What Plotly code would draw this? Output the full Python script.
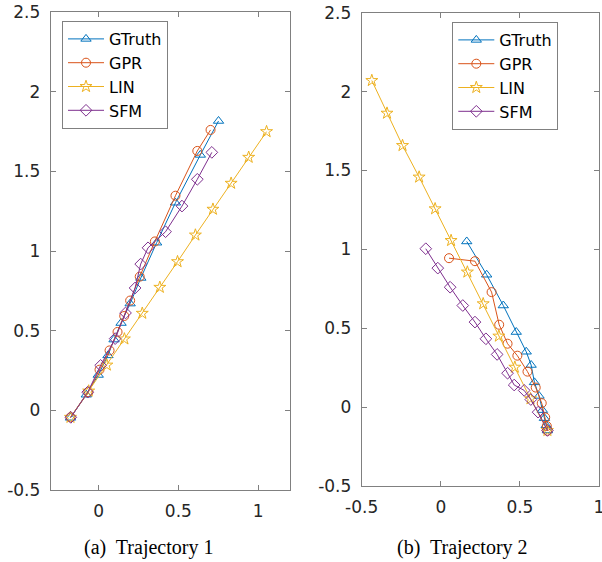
import plotly.graph_objects as go

# ---------------- data ----------------
series_names = ["GTruth", "GPR", "LIN", "SFM"]

# Trajectory 1
t1_gtruth_x = [-0.176, -0.077, -0.002, 0.059, 0.097, 0.141, 0.198, 0.265, 0.364, 0.482, 0.638, 0.752]
t1_gtruth_y = [-0.047, 0.098, 0.222, 0.345, 0.444, 0.548, 0.670, 0.831, 1.052, 1.303, 1.603, 1.816]
t1_gpr_x = [-0.176, -0.064, 0.006, 0.069, 0.119, 0.161, 0.198, 0.258, 0.353, 0.482, 0.619, 0.702]
t1_gpr_y = [-0.044, 0.114, 0.255, 0.376, 0.492, 0.592, 0.689, 0.839, 1.060, 1.347, 1.628, 1.760]
t1_lin_x = [-0.176, -0.062, 0.052, 0.162, 0.274, 0.384, 0.495, 0.607, 0.717, 0.831, 0.941, 1.053]
t1_lin_y = [-0.044, 0.121, 0.284, 0.448, 0.609, 0.772, 0.933, 1.100, 1.262, 1.425, 1.588, 1.749]
t1_sfm_x = [-0.174, -0.068, 0.013, 0.104, 0.169, 0.229, 0.264, 0.310, 0.420, 0.523, 0.619, 0.710]
t1_sfm_y = [-0.044, 0.114, 0.282, 0.450, 0.611, 0.768, 0.918, 1.020, 1.121, 1.282, 1.450, 1.619]

# Trajectory 2
t2_gtruth_x = [0.164, 0.290, 0.395, 0.477, 0.540, 0.571, 0.592, 0.621, 0.642, 0.655, 0.666, 0.674]
t2_gtruth_y = [1.050, 0.839, 0.644, 0.476, 0.351, 0.267, 0.157, 0.071, -0.019, -0.070, -0.116, -0.148]
t2_gpr_x = [0.052, 0.216, 0.321, 0.369, 0.422, 0.484, 0.548, 0.600, 0.638, 0.660, 0.670, 0.674]
t2_gpr_y = [0.944, 0.925, 0.729, 0.522, 0.402, 0.326, 0.225, 0.124, 0.025, -0.065, -0.120, -0.150]
t2_lin_x = [-0.436, -0.340, -0.242, -0.137, -0.036, 0.065, 0.168, 0.268, 0.367, 0.468, 0.567, 0.674]
t2_lin_y = [2.070, 1.863, 1.658, 1.458, 1.257, 1.056, 0.856, 0.655, 0.450, 0.253, 0.053, -0.148]
t2_sfm_x = [-0.095, -0.019, 0.059, 0.139, 0.216, 0.285, 0.356, 0.422, 0.464, 0.527, 0.569, 0.615, 0.674]
t2_sfm_y = [1.004, 0.881, 0.760, 0.644, 0.539, 0.433, 0.334, 0.215, 0.140, 0.106, 0.048, -0.032, -0.148]

x1_ticks = [0, 0.5, 1]
x1_labels = ["0", "0.5", "1"]
x2_ticks = [-0.5, 0, 0.5, 1]
x2_labels = ["-0.5", "0", "0.5", "1"]
y_ticks = [-0.5, 0, 0.5, 1, 1.5, 2, 2.5]
y_labels = ["-0.5", "0", "0.5", "1", "1.5", "2", "2.5"]
captions = ["(a)  Trajectory 1", "(b)  Trajectory 2"]

# ---------------- style ----------------
colors = ["#0072BD", "#D95319", "#EDB120", "#7E2F8E"]
symbols = ["triangle-up-open", "circle-open", "star-open", "diamond-open"]
msizes = [9, 9, 9, 9]
AX = "#808080"
TXT = "#262626"
FONT = "DejaVu Sans"

fig = go.Figure()

traj1 = [(t1_gtruth_x, t1_gtruth_y), (t1_gpr_x, t1_gpr_y), (t1_lin_x, t1_lin_y), (t1_sfm_x, t1_sfm_y)]
traj2 = [(t2_gtruth_x, t2_gtruth_y), (t2_gpr_x, t2_gpr_y), (t2_lin_x, t2_lin_y), (t2_sfm_x, t2_sfm_y)]

for k, (xs, ys) in enumerate(traj1):
    fig.add_trace(go.Scatter(
        x=xs, y=ys, mode="lines+markers", name=series_names[k],
        line=dict(color=colors[k], width=1),
        marker=dict(symbol=symbols[k], size=msizes[k], color=colors[k], line=dict(width=1, color=colors[k])),
        xaxis="x", yaxis="y", legend="legend"))

for k, (xs, ys) in enumerate(traj2):
    fig.add_trace(go.Scatter(
        x=xs, y=ys, mode="lines+markers", name=series_names[k],
        line=dict(color=colors[k], width=1),
        marker=dict(symbol=symbols[k], size=msizes[k], color=colors[k], line=dict(width=1, color=colors[k])),
        xaxis="x2", yaxis="y2", legend="legend2"))

axis_common = dict(
    showgrid=False, zeroline=False, showline=True, linecolor=AX, linewidth=1,
    mirror="ticks", ticks="inside", ticklen=5, tickcolor=AX, tickwidth=1,
    tickfont=dict(family=FONT, size=17, color=TXT), automargin=False,
    ticklabeloverflow="allow",
)

legend_common = dict(
    xref="paper", yref="paper", xanchor="left", yanchor="top",
    bgcolor="white", bordercolor=AX, borderwidth=1,
    font=dict(family=FONT, size=16, color="black"),
    tracegroupgap=0, itemwidth=36, entrywidth=100, entrywidthmode="pixels",
)

fig.update_layout(
    width=602, height=562,
    margin=dict(l=0, r=0, t=0, b=0),
    paper_bgcolor="white", plot_bgcolor="white",
    showlegend=True,
    xaxis=dict(domain=[50.7 / 602, 290 / 602], range=[-0.3, 1.2], tickvals=x1_ticks, ticktext=x1_labels,
               anchor="y", ticklabelstandoff=6, **axis_common),
    yaxis=dict(domain=[72 / 562, 550 / 562], range=[-0.5, 2.5], tickvals=y_ticks, ticktext=y_labels,
               anchor="x", ticklabelstandoff=6, **axis_common),
    xaxis2=dict(domain=[361.7 / 602, 599 / 602], range=[-0.5, 1.0], tickvals=x2_ticks, ticktext=x2_labels,
                anchor="y2", ticklabelstandoff=6, **axis_common),
    yaxis2=dict(domain=[76 / 562, 549.3 / 562], range=[-0.5, 2.5], tickvals=y_ticks, ticktext=y_labels,
                anchor="x2", ticklabelstandoff=6, **axis_common),
    legend=dict(x=62 / 602, y=(562 - 21) / 562, **legend_common),
    legend2=dict(x=452.3 / 602, y=(562 - 22) / 562, **legend_common),
    annotations=[
        dict(text=captions[0], x=148 / 602, y=(562 - 547) / 562, xref="paper", yref="paper",
             showarrow=False, xanchor="center", yanchor="middle",
             font=dict(family="Liberation Serif", size=20, color="black")),
        dict(text=captions[1], x=462 / 602, y=(562 - 547) / 562, xref="paper", yref="paper",
             showarrow=False, xanchor="center", yanchor="middle",
             font=dict(family="Liberation Serif", size=20, color="black")),
    ],
)

fig.write_html("out.html",
               config={"displayModeBar": False},
               post_script="document.body.style.margin='0';document.body.style.overflow='hidden';")
